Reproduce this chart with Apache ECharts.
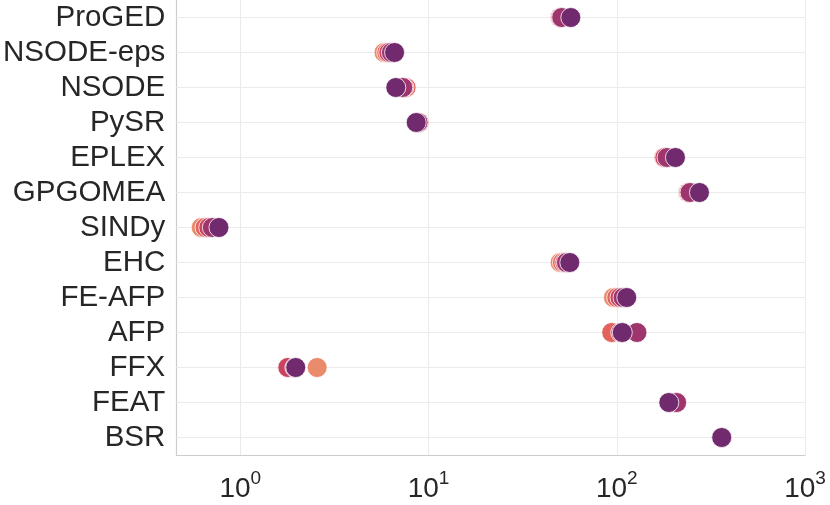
<!DOCTYPE html>
<html>
<head>
<meta charset="utf-8">
<script src="https://cdn.jsdelivr.net/npm/echarts@6/dist/echarts.min.js"></script>
<style>
  html, body { margin: 0; padding: 0; background: #fff; }
  #chart { width: 830px; height: 505px; }
</style>
</head>
<body>
<div id="chart"></div>
<script>
// methods, top to bottom
var methods = ['ProGED', 'NSODE-eps', 'NSODE', 'PySR', 'EPLEX', 'GPGOMEA', 'SINDy',
  'EHC', 'FE-AFP', 'AFP', 'FFX', 'FEAT', 'BSR'];

// one array per level (light -> dark), values in the same order as methods
var level1 = [50, 5.8, 7.5, 8.9, 178, 238, 0.62, 50, 96, 95, 2.56, 205, 361];
var level2 = [50, 6.0, 7.6, 8.9, 178, 240, 0.65, 51.5, 100, 94, 1.78, 206, 361];
var level3 = [50.5, 6.15, 7.4, 8.9, 180, 242, 0.68, 53, 104, 105, 1.79, 207, 361];
var level4 = [51, 6.35, 7.3, 8.8, 185, 245, 0.71, 54, 108, 128, 1.95, 208, 361];
var level5 = [57, 6.6, 6.7, 8.6, 205, 275, 0.77, 56.3, 113, 107, 1.97, 189, 361];

var levels = [level1, level2, level3, level4, level5];
var colors = ['#ea8b6b', '#e2625c', '#c9425f', '#9e366d', '#702a6d'];

var chart = echarts.init(document.getElementById('chart'));

// horizontal grid lines go through the rows, not between them
var rowLines = [];
for (var k = 0; k < methods.length; k++) {
  rowLines.push({ yAxis: methods[k] });
}

var series = [{
  type: 'scatter',
  data: [],
  z: 1,
  markLine: {
    silent: true,
    z: 1,
    symbol: 'none',
    label: { show: false },
    lineStyle: { color: '#ebebeb', width: 1.2, type: 'solid' },
    data: rowLines
  }
}];
for (var i = 0; i < levels.length; i++) {
  var pts = [];
  for (var j = 0; j < methods.length; j++) {
    pts.push([levels[i][j], methods[j]]);
  }
  series.push({
    type: 'scatter',
    data: pts,
    symbolSize: 20,
    itemStyle: { color: colors[i], opacity: 1, borderColor: '#fff', borderWidth: 0.8 },
    z: 2 + i
  });
}

var option = {
  animation: false,
  backgroundColor: '#fff',
  grid: { left: 176, right: 25, top: 0, bottom: 50 },
  xAxis: {
    type: 'log',
    logBase: 10,
    min: 0.457,
    max: 1000,
    axisLine: { show: true, lineStyle: { color: '#cccccc', width: 1.2 } },
    axisTick: { show: false },
    splitLine: { show: true, lineStyle: { color: '#ebebeb', width: 1 } },
    axisLabel: {
      margin: 14,
      showMinLabel: false,
      formatter: function (v) {
        var e = Math.log10(v);
        if (Math.abs(e - Math.round(e)) > 1e-6) return '';
        return '{b|10}{s|' + Math.round(e) + '}';
      },
      rich: {
        b: { fontSize: 28, color: '#262626', fontFamily: 'Liberation Sans', verticalAlign: 'bottom', lineHeight: 34 },
        s: { fontSize: 19, color: '#262626', fontFamily: 'Liberation Sans', verticalAlign: 'top', lineHeight: 26 }
      }
    }
  },
  yAxis: {
    type: 'category',
    inverse: true,
    data: methods,
    boundaryGap: true,
    axisLine: { show: true, lineStyle: { color: '#cccccc', width: 1.2 } },
    axisTick: { show: false },
    splitLine: { show: false },
    axisLabel: {
      interval: 0,
      margin: 11,
      fontSize: 29.5,
      color: '#262626',
      fontFamily: 'Liberation Sans'
    }
  },
  series: series
};

chart.setOption(option);
</script>
</body>
</html>
